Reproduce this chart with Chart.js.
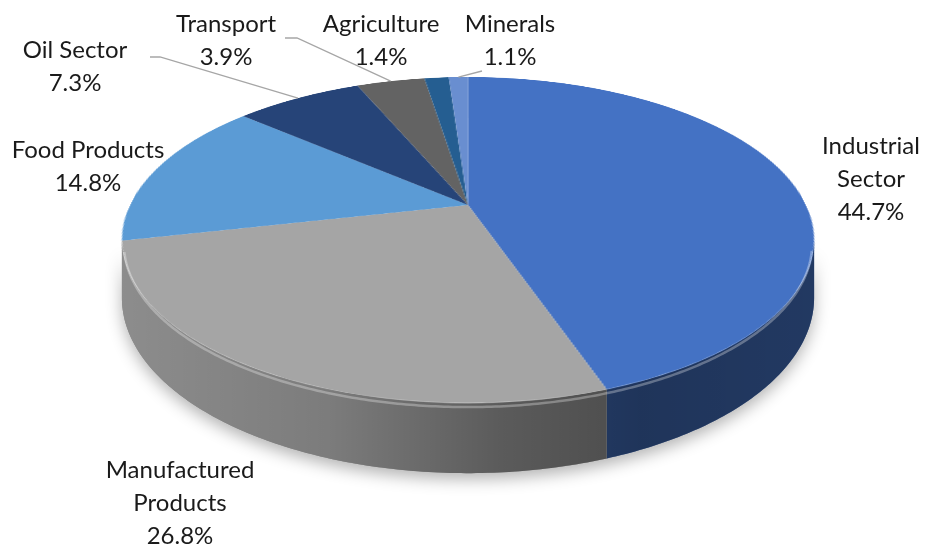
<!DOCTYPE html>
<html>
<head>
<meta charset="utf-8">
<script src="https://cdn.jsdelivr.net/npm/chart.js@4.4.1/dist/chart.umd.min.js"></script>
<style>
  html, body { margin: 0; padding: 0; background: #fff; }
  canvas { display: block; }
</style>
</head>
<body>
<canvas id="pieChart" width="925" height="545"></canvas>
<script>
// sectors and their shares (%)
const categories = ['Industrial Sector', 'Manufactured Products', 'Food Products', 'Oil Sector', 'Transport', 'Agriculture', 'Minerals'];
const shares = [44.7, 26.8, 14.8, 7.3, 3.9, 1.4, 1.1];
const labelLines = [['Industrial', 'Sector'], ['Manufactured', 'Products'], ['Food Products'], ['Oil Sector'], ['Transport'], ['Agriculture'], ['Minerals']];

const topColors = ['#4472C4', '#A5A5A5', '#5B9BD5', '#264478', '#636363', '#255E91', '#698ED0'];

// where each label block is centred (x, y of first line)
const labelPos = [[871, 146], [180, 470], [88, 150], [75, 50], [226, 24], [381, 24], [510, 24]];
// leader lines: [startX, startY, elbowX]
const leaders = [null, null, null, [150, 57, 160], [285, 38, 297], null, [482, 71, 482]];
const LINE_H = 33;

// perspective view of the disc
const CX = 468;       // horizontal centre
const APEX_Y = 205;   // where the slices meet
const SPAN_Y = 155.5; // vertical reach of the top face
const PERSP = 0.215;  // how much nearer parts grow
const SPAN_X = 338;
const DEPTH = 55;     // thickness of the disc

// (u, t) on the unit disc -> screen, t > 0 is toward the viewer
function project(u, t) {
    const q = 1 - PERSP * t;
    return [CX + SPAN_X * u / q, APEX_Y + SPAN_Y * t / q];
}
function depthAt(t) { return DEPTH / (1 - PERSP * t); }
function rowToT(y) {
    const d = y - APEX_Y;
    return d / (SPAN_Y + PERSP * d);
}

function wallPath(ctx, s, e) {
    ctx.beginPath();
    const steps = Math.max(4, Math.ceil((e - s) * 80));
    for (let i = 0; i <= steps; i++) {
        const a = s + (e - s) * i / steps;
        const p = project(Math.cos(a), Math.sin(a));
        if (i === 0) ctx.moveTo(p[0], p[1]); else ctx.lineTo(p[0], p[1]);
    }
    for (let i = steps; i >= 0; i--) {
        const a = s + (e - s) * i / steps;
        const p = project(Math.cos(a), Math.sin(a));
        ctx.lineTo(p[0], p[1] + depthAt(Math.sin(a)));
    }
    ctx.closePath();
}

const pie3d = {
    id: 'pie3d',
    afterDatasetsDraw(chart) {
        const ctx = chart.ctx;
        const canvas = chart.canvas;
        const arcs = chart.getDatasetMeta(0).data;
        const sx0 = arcs[0].x, sy0 = arcs[0].y, R = arcs[0].outerRadius;

        // keep the flat pie, then lay it back in perspective
        const flat = document.createElement('canvas');
        flat.width = canvas.width;
        flat.height = canvas.height;
        flat.getContext('2d').drawImage(canvas, 0, 0);
        ctx.save();
        ctx.setTransform(1, 0, 0, 1, 0, 0);
        ctx.clearRect(0, 0, canvas.width, canvas.height);

        const wallFrom = Math.asin(PERSP), wallTo = Math.PI - wallFrom;

        // soft shadow under the disc
        ctx.save();
        wallPath(ctx, wallFrom, wallTo);
        ctx.shadowColor = 'rgba(0,0,0,0.3)';
        ctx.shadowBlur = 16;
        ctx.shadowOffsetY = 6;
        ctx.fillStyle = '#888';
        ctx.fill();
        ctx.restore();

        // side walls on the visible front
        const xL = CX - 346, xR = CX + 346;
        arcs.forEach((arc, i) => {
            const s = Math.max(arc.startAngle, wallFrom);
            const e = Math.min(arc.endAngle, wallTo);
            if (e <= s) return;
            wallPath(ctx, s, e);
            ctx.fillStyle = arc.options.backgroundColor;
            ctx.fill();
            const g = ctx.createLinearGradient(xL, 0, xR, 0);
            g.addColorStop(0, 'rgba(0,0,0,0.15)');
            g.addColorStop(0.3, 'rgba(0,0,0,0.25)');
            g.addColorStop(0.55, 'rgba(0,0,0,0.45)');
            g.addColorStop(0.75, 'rgba(0,0,0,0.54)');
            g.addColorStop(1, 'rgba(0,0,0,0.5)');
            ctx.fillStyle = g;
            ctx.fill();
        });

        // top face, one screen row at a time
        const yTop = Math.floor(project(0, -1)[1]);
        const yBot = Math.ceil(project(0, 1)[1]);
        for (let y = yTop; y < yBot; y++) {
            const t1 = Math.max(-1, rowToT(y));
            const t2 = Math.min(1, rowToT(y + 1));
            if (t2 <= t1) continue;
            const tm = (t1 + t2) / 2;
            const hw = SPAN_X / (1 - PERSP * tm);
            ctx.drawImage(flat, sx0 - R, sy0 + t1 * R, 2 * R, (t2 - t1) * R,
                CX - hw, y, 2 * hw, 1);
        }

        // light bevel along the front rim
        ctx.beginPath();
        let first = true;
        for (let a = wallFrom + 0.04; a <= wallTo - 0.04; a += 0.01) {
            const p = project(Math.cos(a) * 0.994, Math.sin(a));
            if (first) { ctx.moveTo(p[0], p[1] + 4); first = false; } else ctx.lineTo(p[0], p[1] + 4);
        }
        ctx.strokeStyle = 'rgba(255,255,255,0.3)';
        ctx.lineWidth = 2.5;
        ctx.stroke();
        ctx.restore();
    },
    afterDraw(chart) {
        const ctx = chart.ctx;
        const arcs = chart.getDatasetMeta(0).data;
        ctx.save();

        // leader lines
        ctx.strokeStyle = '#A6A6A6';
        ctx.lineWidth = 1.3;
        arcs.forEach((arc, i) => {
            const l = leaders[i];
            if (!l) return;
            const m = (arc.startAngle + arc.endAngle) / 2;
            const p = project(Math.cos(m), Math.sin(m));
            ctx.beginPath();
            ctx.moveTo(l[0], l[1]);
            ctx.lineTo(l[2], l[1]);
            ctx.lineTo(p[0], p[1]);
            ctx.stroke();
        });

        ctx.fillStyle = '#1a1a1a';
        ctx.font = '24px Lato';
        ctx.textAlign = 'center';
        ctx.textBaseline = 'middle';
        categories.forEach((c, i) => {
            const lines = labelLines[i].concat([shares[i].toFixed(1) + '%']);
            lines.forEach((t, j) => {
                ctx.fillText(t, labelPos[i][0], labelPos[i][1] + j * LINE_H);
            });
        });
        ctx.restore();
    }
};

const ctx = document.getElementById('pieChart').getContext('2d');
const pieChart = new Chart(ctx, {
    type: 'pie',
    data: {
        labels: categories,
        datasets: [{
            data: shares,
            backgroundColor: topColors,
            borderWidth: 0
        }]
    },
    options: {
        responsive: false,
        animation: false,
        radius: 260,
        plugins: {
            legend: { display: false },
            tooltip: { enabled: false }
        }
    },
    plugins: [pie3d]
});
</script>
</body>
</html>
